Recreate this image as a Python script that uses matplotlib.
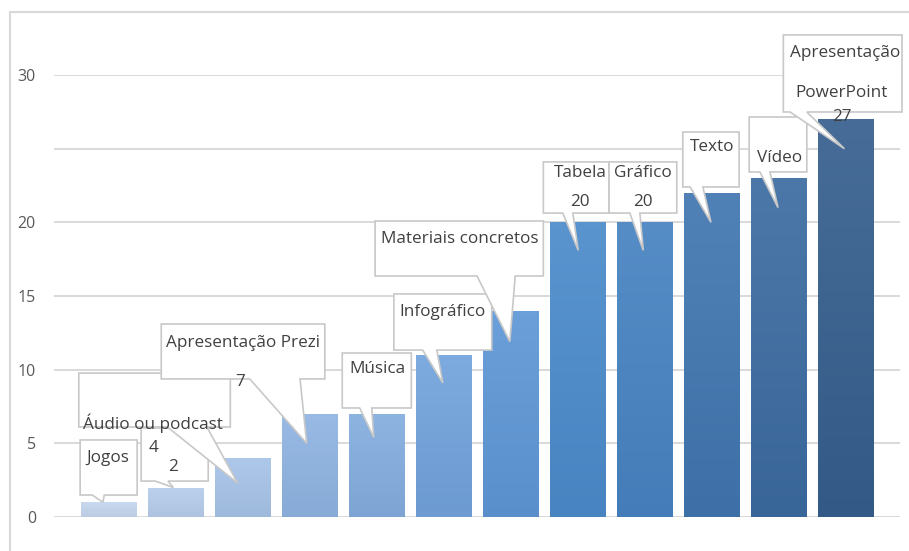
import numpy as np
import matplotlib
matplotlib.use("Agg")
import matplotlib.pyplot as plt
from matplotlib.patches import Polygon, Rectangle
from matplotlib.colors import to_rgb

# data
categories = ["Jogos", "", "Áudio ou podcast", "Apresentação Prezi", "Música",
              "Infográfico", "Materiais concretos", "Tabela", "Gráfico",
              "Texto", "Vídeo", "Apresentação PowerPoint"]
values = [1, 2, 4, 7, 7, 11, 14, 20, 20, 22, 23, 27]
ytick_values = [0, 5, 10, 15, 20, 25, 30]
ytick_labels = ["0", "5", "10", "15", "20", "", "30"]

bar_colors = ["#c4d6ee", "#b6cdeb", "#a6c3e8", "#8fb4e2", "#84addf", "#72a3dc",
              "#5e97d6", "#4b8bcb", "#4783c2", "#4176b0", "#3c6ba1", "#365f8e"]

# callout layout (data units): box l, r, b, t ; tail base x1, x2 ; tip drop below value
boxes = [(-0.43, 0.42, 1.49, 5.23), (0.48, 1.48, 2.44, 6.04), (-0.45, 1.81, 6.11, 9.77),
         (0.78, 3.22, 9.37, 13.10), (3.48, 4.51, 7.40, 11.13), (4.25, 5.71, 11.33, 15.14),
         (3.97, 6.48, 16.36, 20.09), (6.48, 7.46, 20.63, 24.10), (7.46, 8.47, 20.63, 24.10),
         (8.56, 9.40, 22.40, 26.13), (9.55, 10.41, 23.42, 27.15), (10.06, 11.83, 27.49, 32.72)]
tail_base = [(-0.25, -0.07), (0.69, 0.88), (0.87, 1.46), (2.10, 2.85), (3.74, 3.92),
             (4.68, 4.89), (5.49, 6.06), (6.77, 6.92), (7.77, 7.92), (8.67, 8.86),
             (9.71, 9.86), (10.16, 10.41)]
tip_dx = [-0.09, -0.04, -0.08, -0.05, -0.05, -0.02, -0.02, 0.0, -0.03, -0.02, -0.02, -0.03]
tip_drop = [0.0, 0.0, 1.7, 2.0, 1.6, 1.9, 2.1, 1.9, 1.9, 2.0, 2.0, 2.0]
# label positions: (x, y)
name_pos = [(-0.02, 4.00), None, (0.66, 6.38), (2.00, 11.81), (4.00, 10.05),
            (4.98, 13.91), (5.24, 18.87), (7.03, 23.35), (7.97, 23.35),
            (9.00, 25.11), (10.01, 24.37), None]
value_pos = [None, (0.96, 3.39), (0.66, 4.68), (1.95, 9.16), None, None, None,
             (7.03, 21.38), (7.97, 21.38), None, None, (10.93, 27.15)]

text_color = "#404040"
font = "Open Sans"
fs = 12.3

fig = plt.figure(figsize=(9.09, 5.51), dpi=100)
ax = fig.add_axes([54 / 909, 34 / 551, 846 / 909, 442 / 551])

x = np.arange(len(values))
bars = ax.bar(x, values, width=0.835, color=bar_colors, zorder=2)

# soft vertical gradient inside each bar
for b, c in zip(bars, bar_colors):
    rgb = np.array(to_rgb(c))
    top = rgb + (1 - rgb) * 0.08
    bot = rgb * 0.95
    t = np.linspace(0, 1, 64)[:, None]
    grad = (top * (1 - t) + bot * t)[:, None, :]
    bx, by, bw, bh = b.get_x(), b.get_y(), b.get_width(), b.get_height()
    im = ax.imshow(grad, extent=[bx, bx + bw, by, by + bh], aspect="auto",
                   zorder=2.1, origin="upper", interpolation="bilinear")
    im.set_clip_path(b)

ax.set_xlim(-0.82, 11.80)
ax.set_ylim(0, 30)
ax.set_yticks(ytick_values)
ax.set_yticklabels(ytick_labels, fontsize=11.5, color="#595959", family=font)
ax.tick_params(axis="y", length=0, pad=13)
ax.set_xticks([])
for s in ax.spines.values():
    s.set_visible(False)
ax.yaxis.grid(True, color="#d9d9d9", linewidth=1.4, zorder=0)
ax.set_axisbelow(True)

clip_rect = Rectangle((0, 0), 901 / 909, 1, transform=fig.transFigure)

# callouts
for i, (name, v) in enumerate(zip(categories, values)):
    l, r, b, t = boxes[i]
    x1, x2 = tail_base[i]
    tip = (i + tip_dx[i], v - tip_drop[i])
    verts = [(l, t), (r, t), (r, b), (x2, b), tip, (x1, b), (l, b)]
    z = 5 + i * 0.1
    ax.add_patch(Polygon(verts, closed=True, facecolor="white", edgecolor="#c8c8c8",
                         linewidth=1.2, zorder=z, clip_on=False))
    if i == len(values) - 1:
        first, second = name.split(" ")
        tx = ax.text(10.98, 31.49, first, ha="center", va="center", fontsize=fs,
                     color=text_color, family=font, zorder=z + 0.05)
        tx.set_clip_path(clip_rect)
        ax.text(10.93, 28.78, second, ha="center", va="center", fontsize=fs,
                color=text_color, family=font, zorder=z + 0.05)
    elif name_pos[i] is not None:
        ax.text(name_pos[i][0], name_pos[i][1], name, ha="center", va="center",
                fontsize=fs, color=text_color, family=font, zorder=z + 0.05)
    if value_pos[i] is not None:
        ax.text(value_pos[i][0], value_pos[i][1], str(v), ha="center", va="center",
                fontsize=fs, color=text_color, family=font, zorder=z + 0.05)

# outer chart border
fig.patches.append(Rectangle((10 / 909, -0.05), 1.05, 1 - 12 / 551 + 0.05,
                             transform=fig.transFigure, fill=False,
                             edgecolor="#d9d9d9", linewidth=1.5))

fig.savefig("out.png", dpi=100)
